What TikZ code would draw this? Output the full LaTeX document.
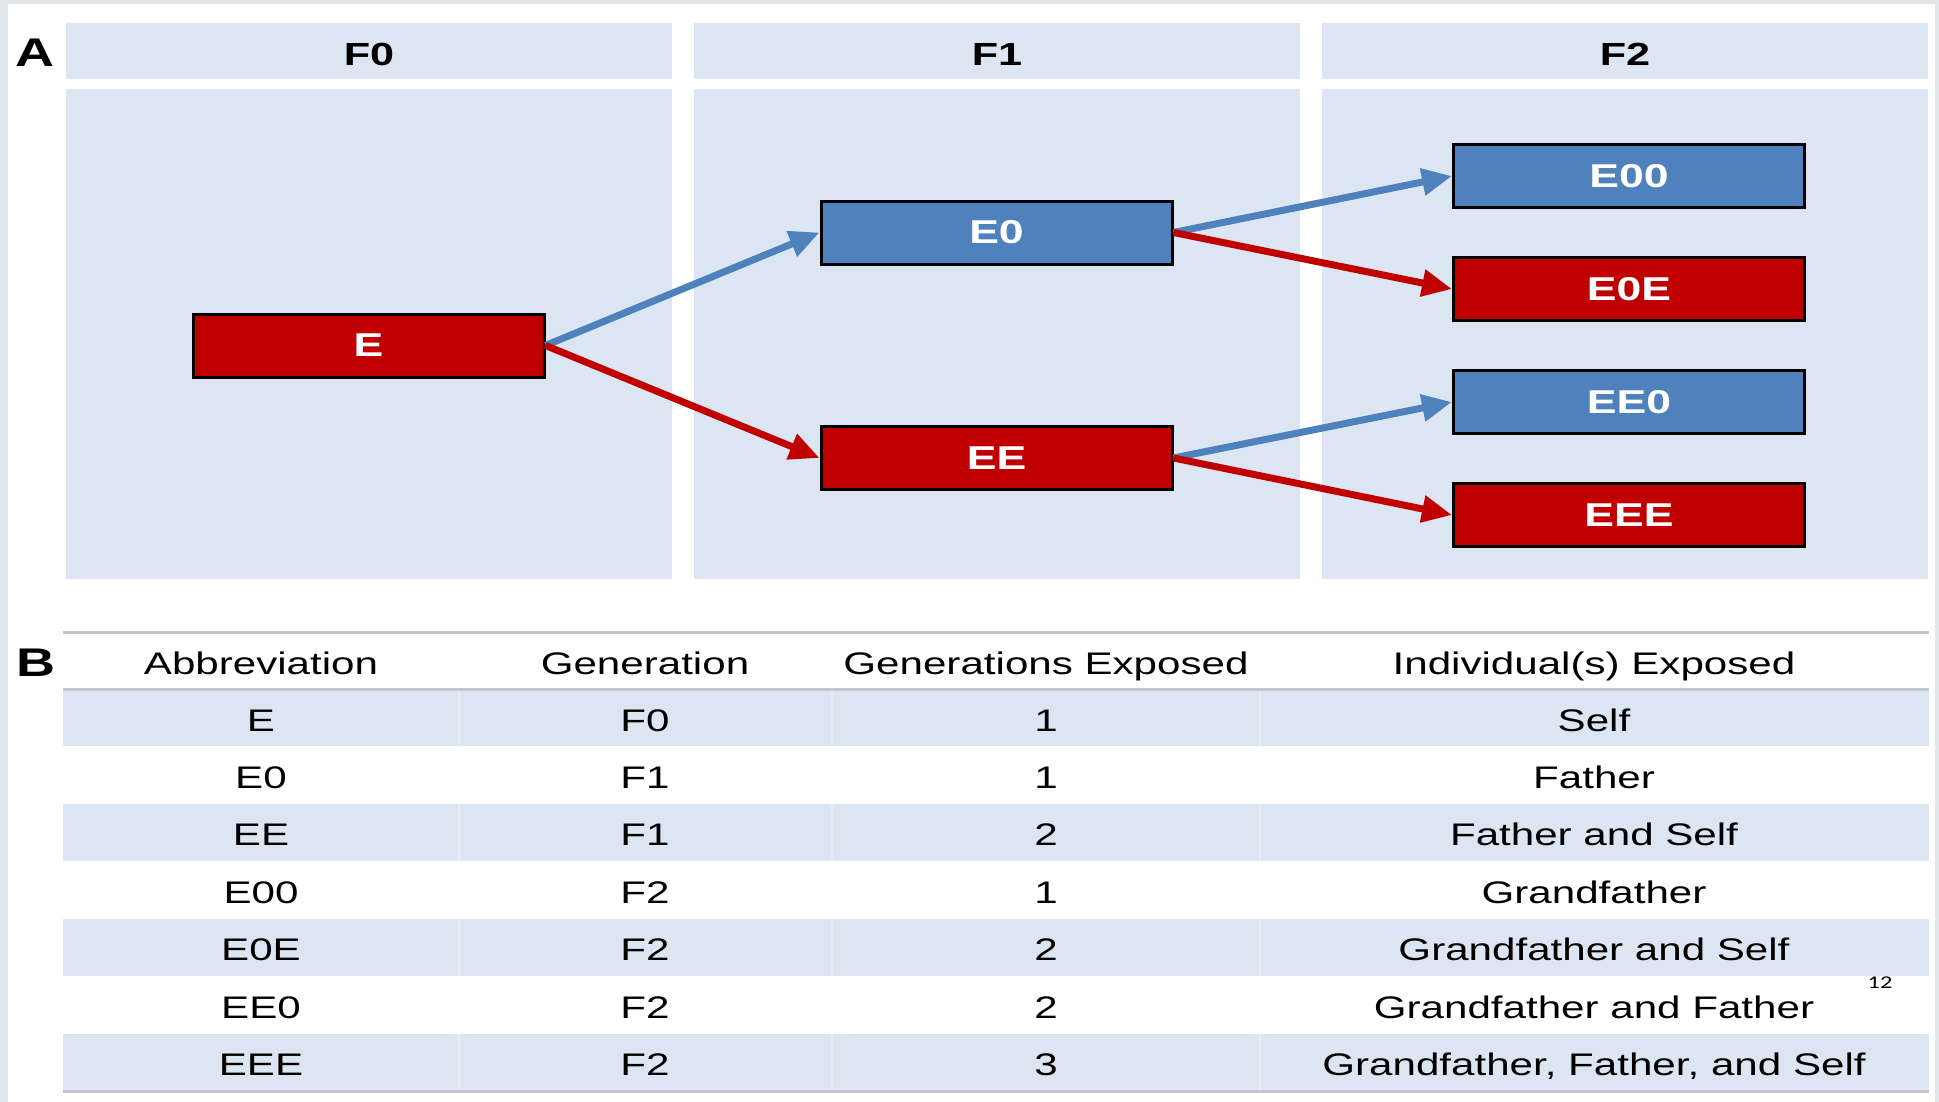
\documentclass[tikz,border=0pt]{standalone}
\usepackage{fontspec}
\setmainfont{Liberation Sans}[FakeStretch=1.35]
\newfontfamily\slidenumfont{Carlito}[FakeStretch=1.35]
\usetikzlibrary{arrows.meta}
\definecolor{panelblue}{RGB}{220,230,242}
\definecolor{sepblue}{RGB}{230,237,246}
\definecolor{boxblue}{RGB}{79,129,189}
\definecolor{boxred}{RGB}{192,0,0}
\definecolor{rulegray}{RGB}{195,198,202}
\definecolor{framegray}{RGB}{228,231,234}
\tikzset{
  genbox/.style={draw=black,line width=1.5pt,minimum width=175.5pt,minimum height=31.5pt,
    inner sep=0pt,text=white,font=\bfseries\fontsize{16.5}{18}\selectfont},
  exposed/.style={genbox,fill=boxred},
  unexposed/.style={genbox,fill=boxblue},
  redarrow/.style={draw=boxred,line width=3.5pt,-{Triangle[length=15pt,width=13pt]}},
  bluearrow/.style={draw=boxblue,line width=3.5pt,-{Triangle[length=15pt,width=13pt]}},
  colhead/.style={font=\bfseries\fontsize{16}{18}\selectfont},
  cell/.style={anchor=base,inner sep=0pt,font=\fontsize{15.6}{17}\selectfont},
  panellabel/.style={font=\bfseries\fontsize{20}{22}\selectfont},
  tablerule/.style={draw=rulegray,line width=1.5pt}
}
\begin{document}
\begin{tikzpicture}[x=0.5pt,y=-0.5pt]
  \useasboundingbox (0,0) rectangle (1939,1102);
  \fill[framegray] (0,0) rectangle (1939,1102);
  \fill[white] (8,4) rectangle (1935,1102);

  % panel A: generation columns
  \foreach \i/\name in {0/F0,1/F1,2/F2} {
    \fill[panelblue] ({66+628*\i},23) rectangle ({672+628*\i},79);
    \fill[panelblue] ({66+628*\i},89) rectangle ({672+628*\i},579);
    \node[colhead] (head\i) at ({369+628*\i},54) {\name};
  }
  \node[panellabel] (labA) at (35,53) {A};

  \node[exposed]   (E)   at (368.5,345.5) {E};
  \node[unexposed] (E0)  at (996.5,232.5) {E0};
  \node[exposed]   (EE)  at (996.5,458)   {EE};
  \node[unexposed] (E00) at (1629,176)    {E00};
  \node[exposed]   (E0E) at (1629,289)    {E0E};
  \node[unexposed] (EE0) at (1629,402)    {EE0};
  \node[exposed]   (EEE) at (1629,515)    {EEE};

  \draw[bluearrow] (E.east) -- (E0.west);
  \draw[redarrow] (E.east) -- (EE.west);
  \draw[bluearrow] (E0.east) -- (E00.west);
  \draw[redarrow] (E0.east) -- (E0E.west);
  \draw[bluearrow] (EE.east) -- (EE0.west);
  \draw[redarrow] (EE.east) -- (EEE.west);

  % panel B: table
  \node[panellabel] (labB) at (36,663) {B};
  \foreach \r in {0,2,4,6} {
    \fill[panelblue] (63,{689+57.43*\r}) rectangle (1929,{689+57.43*(\r+1)});
    \foreach \xs in {459,832,1260}
      \draw[sepblue,line width=0.6pt] (\xs,{689+57.43*\r}) -- (\xs,{689+57.43*(\r+1)});
  }
  \draw[tablerule] (63,632) -- (1929,632);
  \draw[tablerule] (63,689) -- (1929,689);
  \draw[tablerule] (63,1091) -- (1929,1091);

  \node[cell] (th1) at (261,674) {Abbreviation};
  \node[cell] (th2) at (645,674) {Generation};
  \node[cell] (th3) at (1046,674) {Generations Exposed};
  \node[cell] (th4) at (1594,674) {Individual(s) Exposed};
  \foreach \abbr/\gen/\num/\who [count=\r from 0] in
    {E/F0/1/Self, E0/F1/1/Father, EE/F1/2/{Father and Self}, E00/F2/1/Grandfather,
     E0E/F2/2/{Grandfather and Self}, EE0/F2/2/{Grandfather and Father},
     EEE/F2/3/{Grandfather, Father, and Self}} {
    \node[cell] (abbr\r) at (261,{731+57.43*\r}) {\abbr};
    \node[cell] (gen\r) at (645,{731+57.43*\r}) {\gen};
    \node[cell] (num\r) at (1046,{731+57.43*\r}) {\num};
    \node[cell] (who\r) at (1594,{731+57.43*\r}) {\who};
  }

  \node[font=\slidenumfont\fontsize{9}{10}\selectfont] (slideno) at (1880,983) {12};
\end{tikzpicture}
\end{document}
